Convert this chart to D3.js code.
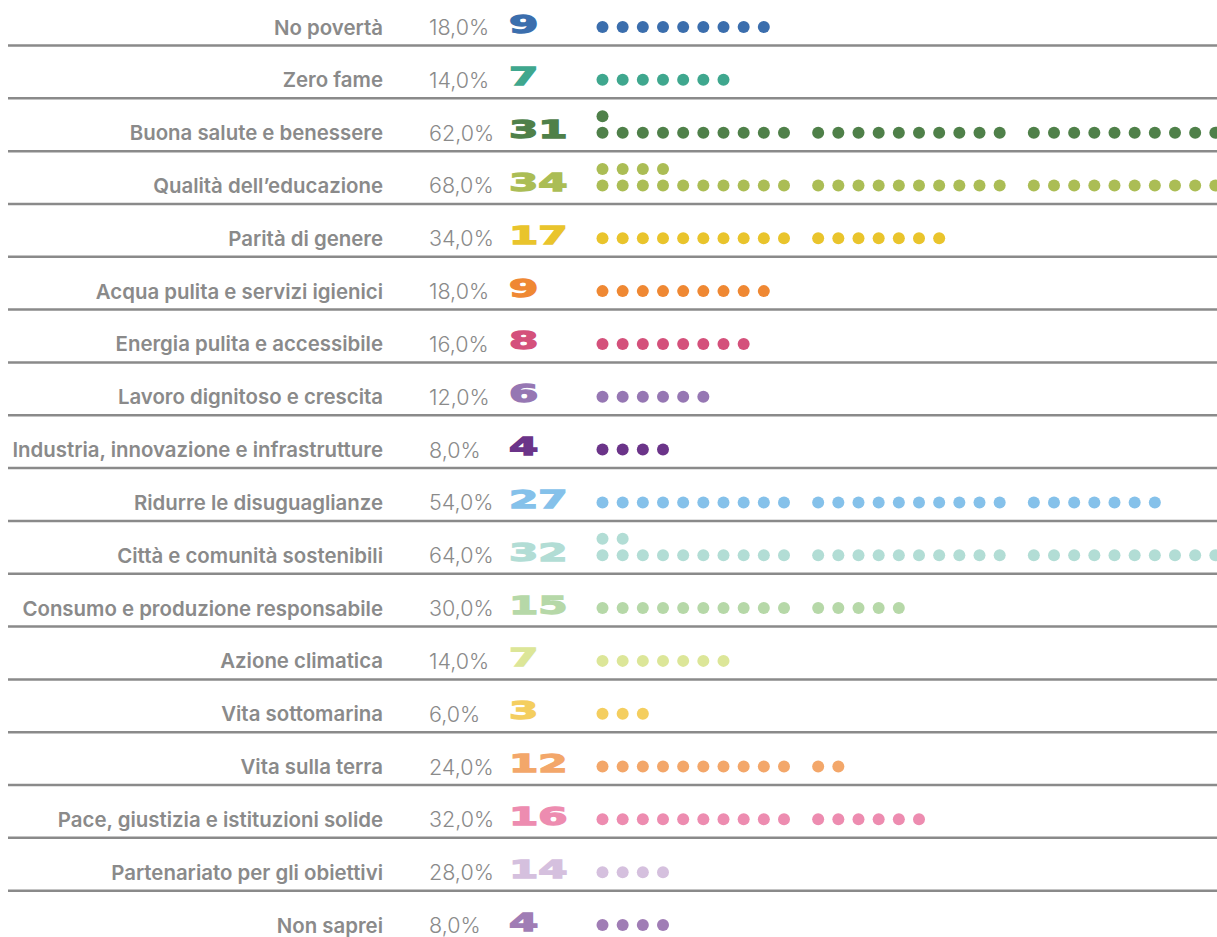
<!DOCTYPE html>
<html>
<head>
<meta charset="utf-8">
<script src="https://cdn.jsdelivr.net/npm/d3@7"></script>
<style>
  html, body { margin: 0; padding: 0; background: #fff; }
  svg { display: block; }
</style>
</head>
<body>
<svg id="chart" width="1217" height="937"></svg>
<script>
const categories = [
  "No povertà", "Zero fame", "Buona salute e benessere", "Qualità dell’educazione",
  "Parità di genere", "Acqua pulita e servizi igienici", "Energia pulita e accessibile",
  "Lavoro dignitoso e crescita", "Industria, innovazione e infrastrutture",
  "Ridurre le disuguaglianze", "Città e comunità sostenibili",
  "Consumo e produzione responsabile", "Azione climatica", "Vita sottomarina",
  "Vita sulla terra", "Pace, giustizia e istituzioni solide",
  "Partenariato per gli obiettivi", "Non saprei"
];
const counts = [9, 7, 31, 34, 17, 9, 8, 6, 4, 27, 32, 15, 7, 3, 12, 16, 14, 4];
const percents = ["18,0%", "14,0%", "62,0%", "68,0%", "34,0%", "18,0%", "16,0%", "12,0%", "8,0%",
  "54,0%", "64,0%", "30,0%", "14,0%", "6,0%", "24,0%", "32,0%", "28,0%", "8,0%"];
const dotsShown = [9, 7, 31, 34, 17, 9, 8, 6, 4, 27, 32, 15, 7, 3, 12, 16, 4, 4];
const colors = ["#3b6ead", "#3fa78e", "#4f8049", "#abbd55", "#e9c42c", "#ef8833", "#d4517b",
  "#9677b3", "#6b3489", "#85c1ea", "#b2ddd5", "#b6d8a8", "#dce698", "#f4ce5f",
  "#f3a76a", "#ed8cb0", "#d5c0de", "#a07db5"];

const W = 1217, H = 937;
const svg = d3.select("#chart");

const y = d3.scalePoint().domain(categories).range([27, 925]);

const colX = d3.scaleLinear().domain([0, 9]).range([602.5, 784]);
const groupGap = 14;
const dotStep = colX(1) - colX(0);
const perRow = 30;
function dotX(col) { return colX(col % 10) + Math.floor(col / 10) * (10 * dotStep + groupGap); }

const rows = categories.map((c, i) => ({ c, i, count: counts[i], pct: percents[i], shown: dotsShown[i], color: colors[i] }));

svg.selectAll("line.sep").data(rows.slice(0, rows.length - 1)).enter().append("line")
  .attr("class", "sep")
  .attr("x1", 8).attr("x2", W)
  .attr("y1", d => y(d.c) + 18.5).attr("y2", d => y(d.c) + 18.5)
  .attr("stroke", "#8a8a8a").attr("stroke-width", 2.5);

const g = svg.selectAll("g.row").data(rows).enter().append("g").attr("class", "row")
  .attr("transform", d => `translate(0,${y(d.c)})`);

g.append("text")
  .attr("x", 383).attr("y", 7.5)
  .attr("text-anchor", "end")
  .attr("font-family", "Inter, 'Noto Sans', sans-serif")
  .attr("font-weight", 600)
  .attr("font-size", 20.4)
  .attr("fill", "#8a8a8a")
  .text(d => d.c);

g.append("text")
  .attr("x", 429).attr("y", 8)
  .attr("font-family", "Inter, 'Noto Sans', sans-serif")
  .attr("font-weight", 300)
  .attr("font-size", 21.5)
  .attr("fill", "#8a8a8a")
  .text(d => d.pct);

g.append("text")
  .attr("transform", "translate(509,5.5) scale(1.72,1)")
  .attr("font-family", "'DejaVu Sans', sans-serif")
  .attr("font-weight", 700)
  .attr("font-size", 24.5)
  .attr("fill", d => d.color)
  .attr("stroke", d => d.color)
  .attr("stroke-width", 1.3)
  .text(d => d.count);

g.each(function(d) {
  const dots = d3.range(d.shown).map(k => ({
    col: k < perRow ? k : k - perRow,
    over: k >= perRow
  }));
  d3.select(this).selectAll("circle").data(dots).enter().append("circle")
    .attr("cx", p => dotX(p.col))
    .attr("cy", p => p.over ? -16.5 : 0)
    .attr("r", 6)
    .attr("fill", d.color);
});
</script>
</body>
</html>
